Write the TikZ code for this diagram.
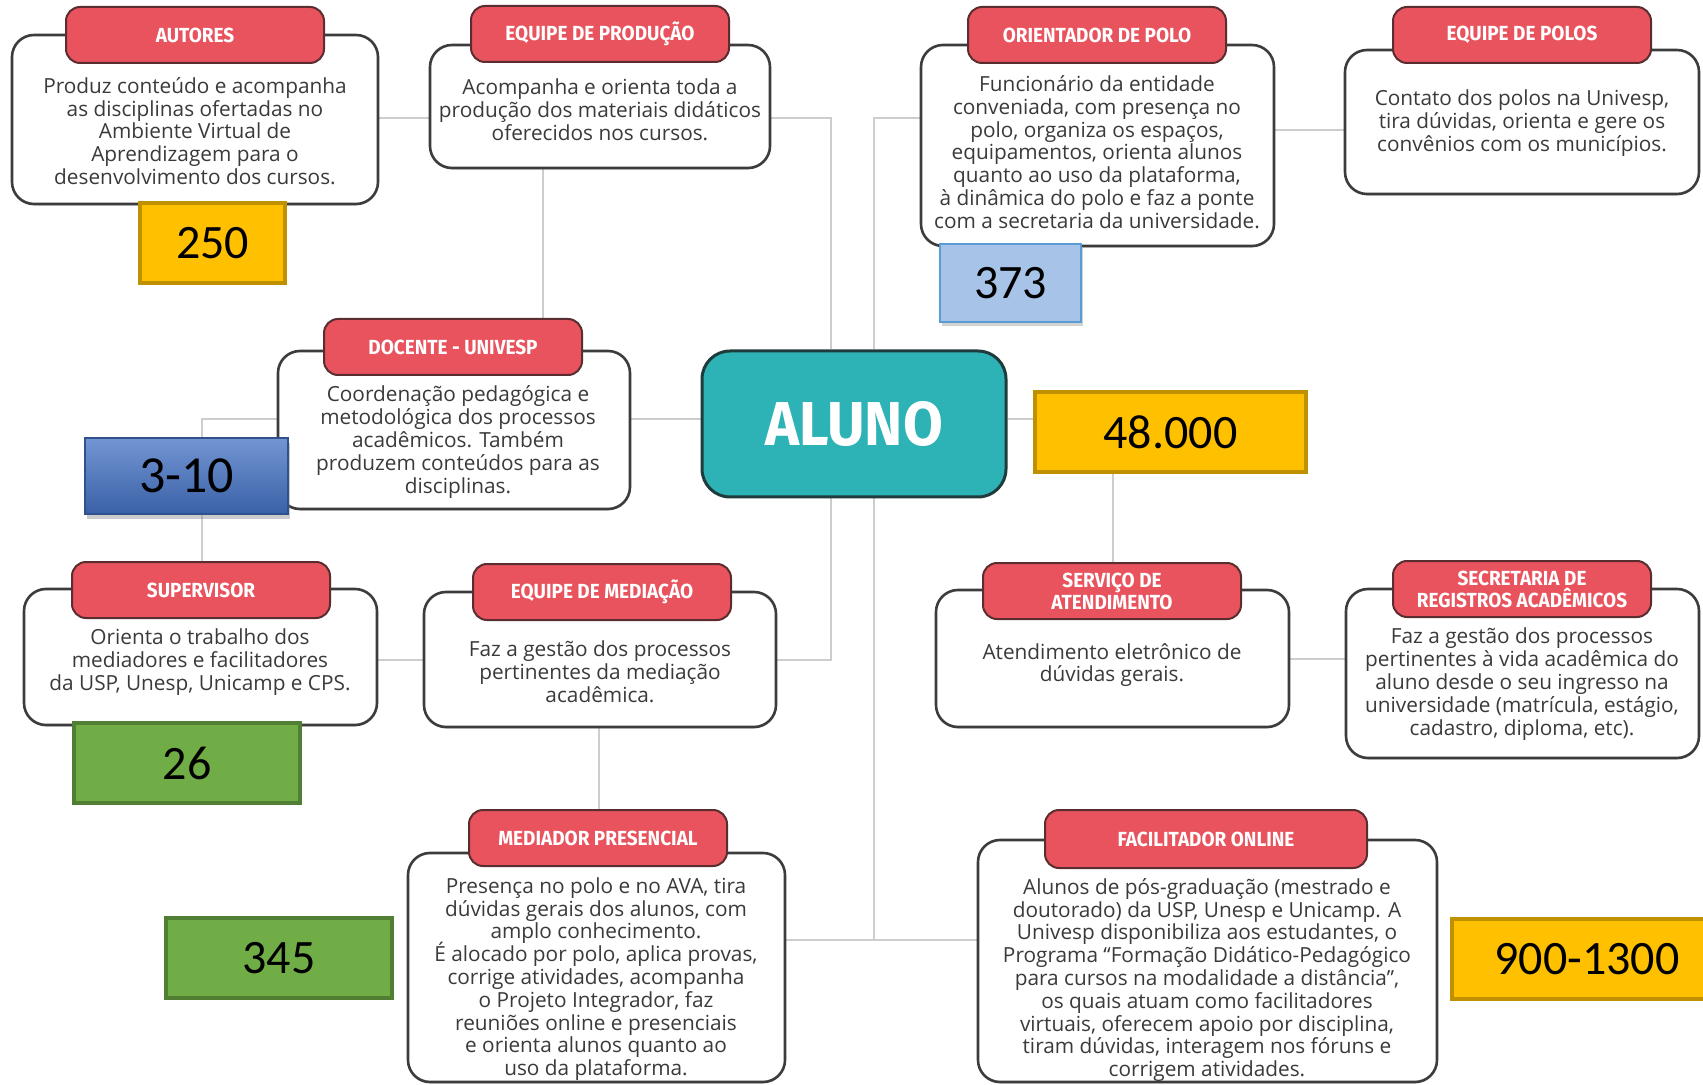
\documentclass[tikz,border=0pt]{standalone}
\usepackage{fontspec}
\setmainfont{Open Sans}
\newfontfamily\titfont{Fira Sans}[FakeStretch=0.93]
\newfontfamily\numfont{Carlito}
\usetikzlibrary{fit,shadows}
\pgfdeclarelayer{background}
\pgfsetlayers{background,main}
\setlength{\lineskiplimit}{-10pt}

\definecolor{cardline}{HTML}{3C3C3C}
\definecolor{headred}{HTML}{E8535E}
\definecolor{headline}{HTML}{5A2E30}
\definecolor{tealaluno}{HTML}{2DB3B6}
\definecolor{alunoline}{HTML}{1F3B3C}
\definecolor{linkgray}{HTML}{CDCDCD}
\definecolor{gold}{HTML}{FFC000}
\definecolor{goldline}{HTML}{BF9000}
\definecolor{leaf}{HTML}{70AD47}
\definecolor{leafline}{HTML}{507E32}
\definecolor{sky}{HTML}{A7C4E8}
\definecolor{skyline}{HTML}{5B9BD5}
\definecolor{royal}{HTML}{4472C4}
\definecolor{royalline}{HTML}{2F528F}
\definecolor{bodytext}{HTML}{3A3A3A}

\tikzset{
  card/.style={draw=cardline, line width=1.3pt, fill=white, rounded corners=11pt, inner sep=0pt,
    drop shadow={shadow xshift=0pt, shadow yshift=-0.8pt, opacity=0.3}},
  head/.style={draw=headline, line width=1pt, fill=headred, rounded corners=7pt, inner sep=0pt,
    minimum width=129pt, minimum height=28pt,
    text=white, align=center, font=\titfont\bfseries\fontsize{10.2}{11}\selectfont},
  body/.style={text=bodytext, align=center, inner sep=0pt, font=\fontsize{10.4}{11.4}\selectfont},
  link/.style={draw=linkgray, line width=1.3pt},
  count/.style={line width=2pt, inner sep=0pt, minimum height=40pt, font=\numfont\fontsize{24}{24}\selectfont},
}

\begin{document}
\begin{tikzpicture}[x=0.5pt, y=-0.5pt]
			%%%%% START %%%%%
			\useasboundingbox (0,0) rectangle (1703,1085);
			
			\node[draw=alunoline, line width=1.5pt, fill=tealaluno, rounded corners=14pt, minimum width=152pt, minimum height=73pt, inner sep=0pt, text=white, font=\titfont\bfseries\fontsize{31}{31}\selectfont] (aluno) at (854,424) {ALUNO};
			
			\node[card, fit={(12,35) (378,204)}] (autores) {};
			\node[head] (autoresH) at (195,35) {AUTORES};
			\node[body] (autoresT) at (195,131) {Produz conteúdo e acompanha\\as disciplinas ofertadas no\\Ambiente Virtual de\\Aprendizagem para o\\desenvolvimento dos cursos.};
			
			\node[card, fit={(430,45) (770,168)}] (producao) {};
			\node[head] (producaoH) at (600,34) {EQUIPE DE PRODUÇÃO};
			\node[body] (producaoT) at (600,110) {Acompanha e orienta toda a\\produção dos materiais didáticos\\oferecidos nos cursos.};
			
			\node[card, fit={(921,45) (1274,246)}] (orientador) {};
			\node[head] (orientadorH) at (1097,35) {ORIENTADOR DE POLO};
			\node[body] (orientadorT) at (1097,152) {Funcionário da entidade\\conveniada, com presença no\\polo, organiza os espaços,\\equipamentos, orienta alunos\\quanto ao uso da plataforma,\\à dinâmica do polo e faz a ponte\\com a secretaria da universidade.};
			
			\node[card, fit={(1345,50) (1699,194)}] (polos) {};
			\node[head] (polosH) at (1522,35) {EQUIPE DE POLOS};
			\node[body] (polosT) at (1522,123) {Contato dos polos na Univesp,\\tira dúvidas, orienta e gere os\\convênios com os municípios.};
			
			\node[card, fit={(278,351) (630,509)}] (docente) {};
			\node[head] (docenteH) at (453,347) {DOCENTE - UNIVESP};
			\node[body] (docenteT) at (458,442) {Coordenação pedagógica e\\metodológica dos processos\\acadêmicos. Também\\produzem conteúdos para as\\disciplinas.};
			
			\node[card, fit={(24,589) (377,725)}] (supervisor) {};
			\node[head] (supervisorH) at (201,590) {SUPERVISOR};
			\node[body] (supervisorT) at (200,662) {Orienta o trabalho dos\\mediadores e facilitadores\\da USP, Unesp, Unicamp e CPS.};
			
			\node[card, fit={(424,592) (776,727)}] (mediacao) {};
			\node[head] (mediacaoH) at (602,592) {EQUIPE DE MEDIAÇÃO};
			\node[body] (mediacaoT) at (600,672) {Faz a gestão dos processos\\pertinentes da mediação\\acadêmica.};
			
			\node[card, fit={(936,590) (1289,727)}] (servico) {};
			\node[head] (servicoH) at (1112,591) {SERVIÇO DE\\ATENDIMENTO};
			\node[body] (servicoT) at (1112,665) {Atendimento eletrônico de\\dúvidas gerais.};
			
			\node[card, fit={(1346,589) (1699,758)}] (secretaria) {};
			\node[head] (secretariaH) at (1522,589) {SECRETARIA DE\\REGISTROS ACADÊMICOS};
			\node[body] (secretariaT) at (1522,684) {Faz a gestão dos processos\\pertinentes à vida acadêmica do\\aluno desde o seu ingresso na\\universidade (matrícula, estágio,\\cadastro, diploma, etc).};
			
			\node[card, fit={(408,853) (785,1082)}] (mediador) {};
			\node[head] (mediadorH) at (598,838) {MEDIADOR PRESENCIAL};
			\node[body] (mediadorT) at (596,979) {Presença no polo e no AVA, tira\\dúvidas gerais dos alunos, com\\amplo conhecimento.\\É alocado por polo, aplica provas,\\corrige atividades, acompanha\\o Projeto Integrador, faz\\reuniões online e presenciais\\e orienta alunos quanto ao\\uso da plataforma.};
			
			\node[card, fit={(978,840) (1437,1082)}] (facilitador) {};
			\node[head, minimum width=161pt, minimum height=29pt] (facilitadorH) at (1206,839) {FACILITADOR ONLINE};
			\node[body] (facilitadorT) at (1207,980) {Alunos de pós-graduação (mestrado e\\doutorado) da USP, Unesp e Unicamp. A\\Univesp disponibiliza aos estudantes, o\\Programa “Formação Didático-Pedagógico\\para cursos na modalidade a distância”,\\os quais atuam como facilitadores\\virtuais, oferecem apoio por disciplina,\\tiram dúvidas, interagem nos fóruns e\\corrigem atividades.};
			
			%%%%% NUMBERS %%%%%
			\node[count, fill=gold, draw=goldline, minimum width=72.5pt] (n250) at (212.5,243.5) {250};
			\node[count, fill=sky, draw=skyline, line width=1pt, minimum width=70.5pt, minimum height=39pt, drop shadow={shadow xshift=1pt, shadow yshift=-2pt, opacity=0.35}] (n373) at (1010.5,283) {373};
			\node[count, top color=royal!75!white, bottom color=royal!85!black, draw=royalline, line width=0.8pt, minimum width=101.5pt, minimum height=38pt, drop shadow={shadow xshift=1pt, shadow yshift=-2.5pt, opacity=0.4}, font=\numfont\fontsize{26}{26}\selectfont] (n310) at (186.5,476) {3-10};
			\node[count, fill=gold, draw=goldline, minimum width=135.5pt] (n48) at (1170.5,432.5) {48.000};
			\node[count, fill=leaf, draw=leafline, minimum width=113pt] (n26) at (187,763) {26};
			\node[count, fill=leaf, draw=leafline, minimum width=113pt] (n345) at (279,958) {345};
			\node[count, fill=gold, draw=goldline, minimum width=135pt] (n900) at (1587,959) {900-1300};
			
			%%%%% LINKS %%%%%
			\coordinate (jTop) at (831,118);
			\coordinate (jOri) at (874,118);
			\coordinate (jDoc) at (202,419);
			\coordinate (jSer) at (1113,419);
			\coordinate (jMed) at (831,660);
			\coordinate (jFac) at (874,940);
			\coordinate (xProd) at (543,250);
			\coordinate (xMed) at (599,770);
			\coordinate (yPolo) at (1310,130);
			\coordinate (yReg) at (1318,659);
			
			\begin{pgfonlayer}{background}
			\fill[white] (0,0) rectangle (1703,1085);
			\draw[link] (autores.east |- jTop) -- (producao.west |- jTop);
			\draw[link] (producao.east |- jTop) -- (jTop) -- (jTop |- aluno.north);
			\draw[link] (producao.south -| xProd) -- (docenteH.north -| xProd);
			\draw[link] (orientador.west |- jOri) -- (jOri) -- (jOri |- aluno.north);
			\draw[link] (orientador.east |- yPolo) -- (polos.west |- yPolo);
			\draw[link] (docente.east |- jDoc) -- (aluno.west |- jDoc);
			\draw[link] (docente.west |- jDoc) -- (jDoc) -- (jDoc |- supervisorH.north);
			\draw[link] (aluno.east |- jSer) -- (jSer) -- (jSer |- servicoH.north);
			\draw[link] (supervisor.east |- jMed) -- (mediacao.west |- jMed);
			\draw[link] (jTop |- aluno.south) -- (jMed) -- (mediacao.east |- jMed);
			\draw[link] (mediacao.south -| xMed) -- (mediadorH.north -| xMed);
			\draw[link] (jOri |- aluno.south) -- (jFac);
			\draw[link] (mediador.east |- jFac) -- (facilitador.west |- jFac);
			\draw[link] (servico.east |- yReg) -- (secretaria.west |- yReg);
			\end{pgfonlayer}
			
			%%%%% END %%%%%
\end{tikzpicture}
\end{document}
